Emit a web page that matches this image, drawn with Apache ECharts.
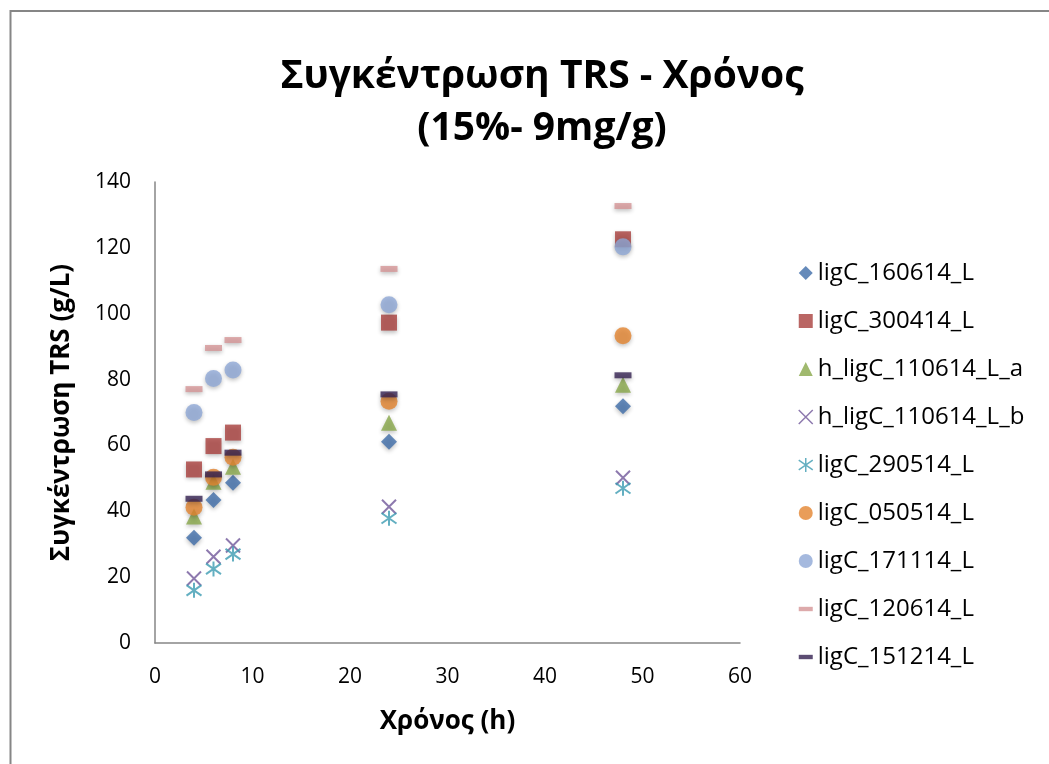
<!DOCTYPE html>
<html><head><meta charset="utf-8">
<script src="https://cdn.jsdelivr.net/npm/echarts@6/dist/echarts.min.js"></script>
<style>html,body{margin:0;padding:0;background:#fff}#c{width:1049px;height:764px}</style>
</head><body><div id="c"></div>
<script>
const times = [4, 6, 8, 24, 48];
const seriesNames = ['ligC_160614_L','ligC_300414_L','h_ligC_110614_L_a','h_ligC_110614_L_b','ligC_290514_L','ligC_050514_L','ligC_171114_L','ligC_120614_L','ligC_151214_L'];
const ligC_160614_L   = [32, 43.4, 48.7, 61.1, 71.9];
const ligC_300414_L   = [52.7, 59.8, 63.9, 97.3, 122.6];
const h_ligC_110614_L_a = [38.4, 49.0, 53.5, 66.9, 78.4];
const h_ligC_110614_L_b = [19.6, 26.2, 29.6, 41.4, 50.2];
const ligC_290514_L   = [16.0, 22.5, 27.0, 37.9, 47.0];
const ligC_050514_L   = [41.2, 50.3, 56.4, 73.4, 93.3];
const ligC_171114_L   = [70.0, 80.3, 82.9, 102.7, 120.3];
const ligC_120614_L   = [77.1, 89.6, 92.0, 113.6, 132.7];
const ligC_151214_L   = [43.8, 51.2, 57.8, 75.5, 81.3];
const yTicks = [0,20,40,60,80,100,120,140];
const xTicks = [0,10,20,30,40,50,60];

const values = [ligC_160614_L, ligC_300414_L, h_ligC_110614_L_a, h_ligC_110614_L_b, ligC_290514_L, ligC_050514_L, ligC_171114_L, ligC_120614_L, ligC_151214_L];
const colors = ['#3E6DA9','#A9403D','#88A84A','#70579A','#3C9BB2','#E4842F','#8EA8D6','#D49596','#332150'];
const X = 'path://M0,0L10,10M10,0L0,10';
const STAR = 'path://M5,0L5,10M0,1.5L10,8.5M0,8.5L10,1.5';
const symbols = ['diamond','rect','triangle',X,STAR,'circle','circle','rect','rect'];
const sizes = [16,16,16,14,15,17,17,[17,6],[17,6]];
const legendIcons = ['diamond','rect','triangle',X,STAR,'circle','circle','path://M0,5L16,5L16,10L0,10Z','path://M0,5L16,5L16,10L0,10Z'];
const font = '"Open Sans", "Noto Sans", sans-serif';

const series = seriesNames.map((n,i)=>{
  const line = (i===3||i===4);
  return {
    name: n, type: 'scatter',
    data: times.map((t,j)=>[t, values[i][j]]),
    symbol: symbols[i], symbolSize: sizes[i], symbolKeepAspect: line,
    itemStyle: line ? {color: 'rgba(0,0,0,0)', borderColor: colors[i], borderWidth: 2}
                    : {color: colors[i], shadowBlur: 4, shadowColor: 'rgba(0,0,0,0.3)', shadowOffsetY: 2},
    emphasis: {disabled: true}
  };
});

const chart = echarts.init(document.getElementById('c'));
chart.setOption({
  backgroundColor: '#fff',
  animation: false,
  color: colors,
  title: {
    text: 'Συγκέντρωση TRS - Χρόνος\n(15%- 9mg/g)',
    left: 537, top: 46, textAlign: 'center',
    textStyle: {fontFamily: font, fontSize: 39, fontWeight: 'bold', color: '#000', lineHeight: 52}
  },
  legend: {
    orient: 'vertical', left: 793, top: 256,
    itemWidth: 14, itemHeight: 14, itemGap: 24,
    textStyle: {fontFamily: font, fontSize: 24, color: '#000', lineHeight: 24},
    data: seriesNames.map((n,i)=>({name: n, icon: legendIcons[i],
      itemStyle: (i===3||i===4) ? {color:'rgba(0,0,0,0)', borderColor: colors[i], borderWidth: 1.5} : {color: colors[i], shadowBlur:0, shadowOffsetY:0}}))
  },
  grid: {left: 155, top: 182, width: 585, height: 461, containLabel: false},
  xAxis: {
    type: 'value', min: 0, max: 60, interval: 10,
    name: 'Χρόνος (h)', nameLocation: 'middle', nameGap: 66,
    nameTextStyle: {fontFamily: font, fontSize: 26, fontWeight: 'bold', color: '#000'},
    axisLine: {show: true, lineStyle: {color: '#868686', width: 1.5}},
    axisTick: {show: false}, splitLine: {show: false},
    axisLabel: {fontFamily: font, fontSize: 21, color: '#000', margin: 24}
  },
  yAxis: {
    type: 'value', min: 0, max: 140, interval: 20,
    name: 'Συγκέντρωση TRS (g/L)', nameLocation: 'middle', nameGap: 80, nameRotate: 90,
    nameTextStyle: {fontFamily: font, fontSize: 26, fontWeight: 'bold', color: '#000'},
    axisLine: {show: true, lineStyle: {color: '#868686', width: 1.5}},
    axisTick: {show: false}, splitLine: {show: false},
    axisLabel: {fontFamily: font, fontSize: 21, color: '#000', margin: 24}
  },
  graphic: [{type: 'rect', shape: {x: 10.5, y: 11, width: 1100, height: 800}, style: {fill: 'none', stroke: '#868686', lineWidth: 2}, silent: true, z: -1}],
  series: series
});
</script></body></html>
